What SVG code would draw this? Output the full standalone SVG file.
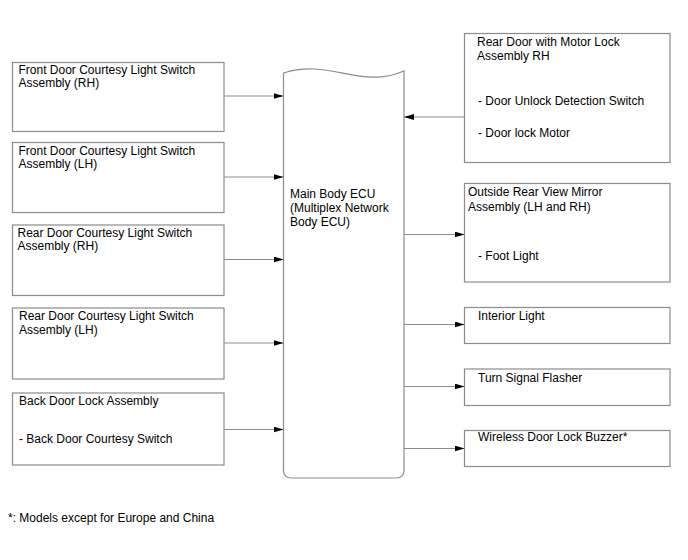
<svg xmlns="http://www.w3.org/2000/svg" width="688" height="560" viewBox="0 0 688 560">
<style>
.box{fill:#fff;stroke:#8c8c8c;stroke-width:1.2}
.t{font-family:"Liberation Sans",Arial,sans-serif;font-size:12px;fill:#000}
.c{stroke:#8c8c8c;stroke-width:1.2;fill:none}
</style>
<defs>
<marker id="ah" viewBox="0 0 10 6" refX="10" refY="3" markerWidth="10" markerHeight="6" markerUnits="userSpaceOnUse" orient="auto">
<path d="M0,0 L10,3 L0,6 Z" fill="#000"/>
</marker>
</defs>
<rect width="688" height="560" fill="#fff"/>
<g id="connectors">
<line class="c" x1="224" y1="96" x2="283.5" y2="96" marker-end="url(#ah)"/>
<line class="c" x1="224" y1="177" x2="283.5" y2="177" marker-end="url(#ah)"/>
<line class="c" x1="224" y1="259.5" x2="283.5" y2="259.5" marker-end="url(#ah)"/>
<line class="c" x1="224" y1="343" x2="283.5" y2="343" marker-end="url(#ah)"/>
<line class="c" x1="224" y1="429.5" x2="283.5" y2="429.5" marker-end="url(#ah)"/>
<line class="c" x1="464.5" y1="117" x2="404" y2="117" marker-end="url(#ah)"/>
<line class="c" x1="404" y1="234.5" x2="464.5" y2="234.5" marker-end="url(#ah)"/>
<line class="c" x1="404" y1="324.5" x2="464.5" y2="324.5" marker-end="url(#ah)"/>
<line class="c" x1="404" y1="386.5" x2="464.5" y2="386.5" marker-end="url(#ah)"/>
<line class="c" x1="404" y1="448.5" x2="464.5" y2="448.5" marker-end="url(#ah)"/>
</g>
<g id="ecu">
<path class="box" d="M283.5,73 C330,58 360,90 404,71 L404,471 A7,7 0 0 1 397,478 L290.5,478 A7,7 0 0 1 283.5,471 Z"/>
<text class="t" x="290" y="198">Main Body ECU</text>
<text class="t" x="290" y="212">(Multiplex Network</text>
<text class="t" x="290" y="226">Body ECU)</text>
</g>
<g id="front-rh">
<rect class="box" x="12.5" y="62.5" width="211.5" height="69"/>
<text class="t" x="18.5" y="74">Front Door Courtesy Light Switch</text>
<text class="t" x="18.5" y="87">Assembly (RH)</text>
</g>
<g id="front-lh">
<rect class="box" x="12.5" y="142.5" width="211.5" height="70"/>
<text class="t" x="18.5" y="155">Front Door Courtesy Light Switch</text>
<text class="t" x="18.5" y="168">Assembly (LH)</text>
</g>
<g id="rear-rh">
<rect class="box" x="12.5" y="225" width="211.5" height="70.5"/>
<text class="t" x="17.5" y="237">Rear Door Courtesy Light Switch</text>
<text class="t" x="17.5" y="250">Assembly (RH)</text>
</g>
<g id="rear-lh">
<rect class="box" x="12.5" y="308" width="211.5" height="71"/>
<text class="t" x="19" y="320">Rear Door Courtesy Light Switch</text>
<text class="t" x="19" y="334">Assembly (LH)</text>
</g>
<g id="back-door">
<rect class="box" x="12.5" y="393" width="211.5" height="72"/>
<text class="t" x="19" y="405">Back Door Lock Assembly</text>
<text class="t" x="19" y="443">- Back Door Courtesy Switch</text>
</g>
<g id="rear-motor-lock">
<rect class="box" x="464.5" y="33.5" width="205.5" height="129"/>
<text class="t" x="477" y="46">Rear Door with Motor Lock</text>
<text class="t" x="477" y="60">Assembly RH</text>
<text class="t" x="478" y="105">- Door Unlock Detection Switch</text>
<text class="t" x="478" y="137">- Door lock Motor</text>
</g>
<g id="mirror">
<rect class="box" x="464.5" y="183.5" width="205.5" height="98.5"/>
<text class="t" x="468" y="196">Outside Rear View Mirror</text>
<text class="t" x="468" y="211">Assembly (LH and RH)</text>
<text class="t" x="478" y="260">- Foot Light</text>
</g>
<g id="interior-light">
<rect class="box" x="464.5" y="307.5" width="205.5" height="36"/>
<text class="t" x="478" y="320">Interior Light</text>
</g>
<g id="turn-signal">
<rect class="box" x="464.5" y="369" width="205.5" height="36.5"/>
<text class="t" x="478" y="382">Turn Signal Flasher</text>
</g>
<g id="buzzer">
<rect class="box" x="464.5" y="430.5" width="205.5" height="36"/>
<text class="t" x="478" y="441">Wireless Door Lock Buzzer*</text>
</g>
<text class="t" x="8" y="522">*: Models except for Europe and China</text>
</svg>
